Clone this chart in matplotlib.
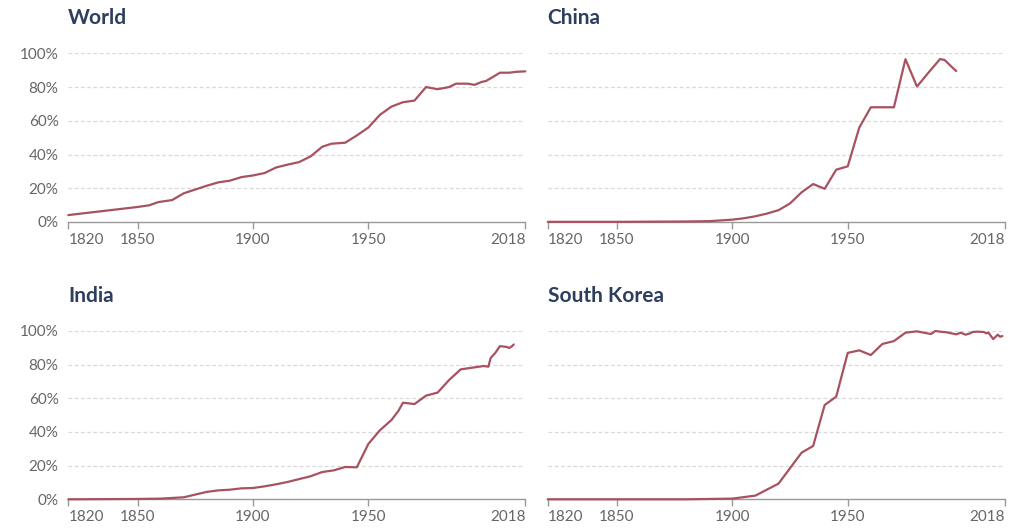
import matplotlib
matplotlib.use("Agg")
import matplotlib.pyplot as plt

plt.rcParams['font.family'] = ['Lato', 'DejaVu Sans']

world_years = [1820, 1850, 1855, 1859, 1865, 1870, 1880, 1885, 1890, 1895, 1900, 1905, 1910,
               1915, 1920, 1925, 1930, 1934, 1940, 1945, 1950, 1955, 1960, 1965, 1970, 1975,
               1980, 1985, 1988, 1990, 1993, 1996, 1999, 2001, 2004, 2007, 2011, 2014, 2018]
world_vals = [4.1, 8.9, 9.9, 11.8, 13.0, 17.0, 21.5, 23.5, 24.5, 26.6, 27.6, 29.0, 32.3,
              34.0, 35.5, 38.9, 44.6, 46.4, 47.0, 51.3, 56.0, 63.5, 68.4, 71.0, 72.0, 80.0,
              78.7, 80.0, 82.0, 82.0, 82.0, 81.3, 83.0, 83.6, 86.0, 88.5, 88.5, 89.0, 89.3]

china_years = [1820, 1850, 1880, 1890, 1900, 1905, 1910, 1915, 1920, 1925, 1930, 1935, 1940,
               1945, 1950, 1955, 1960, 1970, 1975, 1980, 1985, 1990, 1992, 1995, 1997]
china_vals = [0.1, 0.1, 0.3, 0.5, 1.4, 2.2, 3.4, 5.0, 7.0, 11.0, 17.6, 22.5, 19.7,
              31.0, 33.0, 56.0, 68.0, 68.0, 96.5, 80.3, 88.6, 96.6, 96.0, 92.0, 89.5]

india_years = [1820, 1850, 1860, 1870, 1880, 1885, 1890, 1895, 1900, 1905, 1910, 1915, 1920,
               1925, 1930, 1935, 1940, 1945, 1950, 1955, 1960, 1963, 1965, 1970, 1975, 1980,
               1985, 1990, 1995, 2000, 2002, 2003, 2005, 2007, 2009, 2010, 2011, 2012, 2013]
india_vals = [0.0, 0.2, 0.4, 1.2, 4.4, 5.3, 5.7, 6.5, 6.7, 7.7, 8.9, 10.3, 12.0,
              13.7, 16.2, 17.2, 19.2, 19.0, 32.9, 41.0, 47.1, 52.5, 57.4, 56.6, 61.6, 63.4,
              70.9, 77.2, 78.2, 79.2, 78.8, 84.0, 87.0, 91.0, 90.7, 90.5, 89.9, 90.7, 92.0]

korea_years = [1820, 1850, 1880, 1900, 1910, 1920, 1930, 1935, 1940, 1945, 1950, 1955, 1960,
               1965, 1970, 1975, 1980, 1986, 1988, 1990, 1993, 1995, 1997, 1999, 2001, 2003,
               2004, 2006, 2009, 2010, 2011, 2013, 2015, 2016, 2017]
korea_vals = [0.0, 0.0, 0.0, 0.4, 2.2, 9.3, 27.7, 31.7, 56.0, 61.0, 87.0, 88.5, 85.7,
              92.3, 94.0, 99.0, 99.8, 98.2, 100.0, 99.6, 99.2, 98.6, 98.0, 99.0, 97.8, 98.6,
              99.4, 99.6, 99.4, 98.6, 99.0, 95.2, 97.8, 96.6, 97.0]

titles = ["World", "China", "India", "South Korea"]
series = [(world_years, world_vals), (china_years, china_vals),
          (india_years, india_vals), (korea_years, korea_vals)]

xticks = [1820, 1850, 1900, 1950, 2018]
yticks = [0, 20, 40, 60, 80, 100]
ytick_labels = ["0%", "20%", "40%", "60%", "80%", "100%"]

LINE = "#a8515f"
TITLE = "#2d3e5f"
TICK = "#666666"
AXIS = "#999999"
GRID = "#d9d9d9"

fig = plt.figure(figsize=(10.2, 5.31), dpi=100)
W, H = 1020, 531
boxes = [
    (68.3, 525.3, 53.3, 222.0),
    (547.7, 1004.7, 53.3, 222.0),
    (68.3, 525.3, 331.0, 499.3),
    (547.7, 1004.7, 331.0, 499.3),
]

for i, (box, title, (xs, ys)) in enumerate(zip(boxes, titles, series)):
    x0, x1, y0, y1 = box
    ax = fig.add_axes([x0 / W, 1 - y1 / H, (x1 - x0) / W, (y1 - y0) / H])
    ax.set_xlim(1820, 2018)
    ax.set_ylim(0, 100)
    for y in yticks[1:]:
        ax.axhline(y, color=GRID, lw=0.9, ls=(0, (3, 2)), zorder=1)
    ax.plot(xs, ys, color=LINE, lw=1.6, clip_on=False, zorder=3,
            solid_joinstyle='round', solid_capstyle='round')
    for s in ["top", "right", "left"]:
        ax.spines[s].set_visible(False)
    ax.spines["bottom"].set_color(AXIS)
    ax.spines["bottom"].set_linewidth(1.0)
    ax.set_xticks(xticks)
    ax.set_xticklabels([str(t) for t in xticks])
    ax.tick_params(axis='x', direction='out', length=5, width=1.0, color=AXIS,
                   labelcolor=TICK, labelsize=11, pad=3)
    labels = ax.get_xticklabels()
    labels[0].set_ha('left')
    labels[-1].set_ha('right')
    ax.set_yticks(yticks)
    if i % 2 == 0:
        ax.set_yticklabels(ytick_labels)
        ax.tick_params(axis='y', length=0, labelcolor=TICK, labelsize=11, pad=7)
    else:
        ax.set_yticklabels([])
        ax.tick_params(axis='y', length=0)
    ax.patch.set_alpha(0)
    fig.text(x0 / W, 1 - (y0 - 35.5) / H, title, color=TITLE, fontsize=15,
             fontweight='bold', ha='left', va='center')

fig.savefig("out.png", dpi=100)
